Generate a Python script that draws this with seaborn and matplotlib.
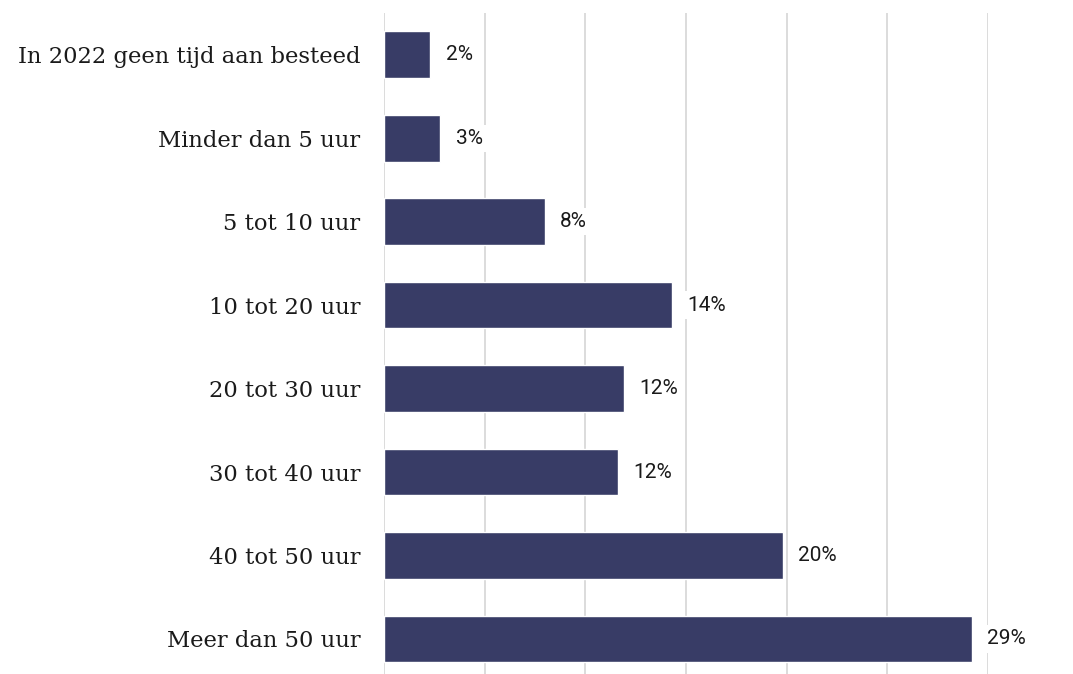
import matplotlib
matplotlib.use("Agg")
import matplotlib.pyplot as plt
import seaborn as sns
import pandas as pd

# ==================== DATA ====================
categories = [
    "In 2022 geen tijd aan besteed",
    "Minder dan 5 uur",
    "5 tot 10 uur",
    "10 tot 20 uur",
    "20 tot 30 uur",
    "30 tot 40 uur",
    "40 tot 50 uur",
    "Meer dan 50 uur",
]
values = [2.3, 2.8, 8.0, 14.3, 11.9, 11.6, 19.8, 29.2]
value_labels = ["2%", "3%", "8%", "14%", "12%", "12%", "20%", "29%"]

BAR_COLOR = "#383c66"
GRID_COLOR = "#d9d9d9"

df = pd.DataFrame({"categorie": categories, "aandeel": values})

# ==================== PLOT ====================
sns.set_style("white")
fig = plt.figure(figsize=(10.73, 6.74), dpi=100)
ax = fig.add_axes([384 / 1073, 0.0, (988 - 384) / 1073, 1 - 13 / 674])

sns.barplot(data=df, x="aandeel", y="categorie", orient="h",
            color=BAR_COLOR, width=0.56, saturation=1, ax=ax, zorder=3)

ax.set_xlim(0, 30)
ax.set_ylim(7.42, -0.5)
ax.set_xticks(range(0, 31, 5))
ax.xaxis.grid(True, color=GRID_COLOR, linewidth=1.3, zorder=0)
ax.set_axisbelow(True)
ax.tick_params(axis="x", length=0, labelbottom=False)
ax.tick_params(axis="y", length=0, pad=17)
for s in ax.spines.values():
    s.set_visible(False)
ax.set_xlabel("")
ax.set_ylabel("")

for lbl in ax.get_yticklabels():
    lbl.set_fontfamily("DejaVu Serif")
    lbl.set_fontsize(16.3)
    lbl.set_color("#1a1a1a")

texts = ax.bar_label(ax.containers[0], labels=value_labels, padding=11,
                     fontsize=15, family="Roboto", color="#1a1a1a")
for t in texts:
    t.set_bbox(dict(facecolor="white", edgecolor="none", pad=3))

fig.savefig("out.png", dpi=100)
